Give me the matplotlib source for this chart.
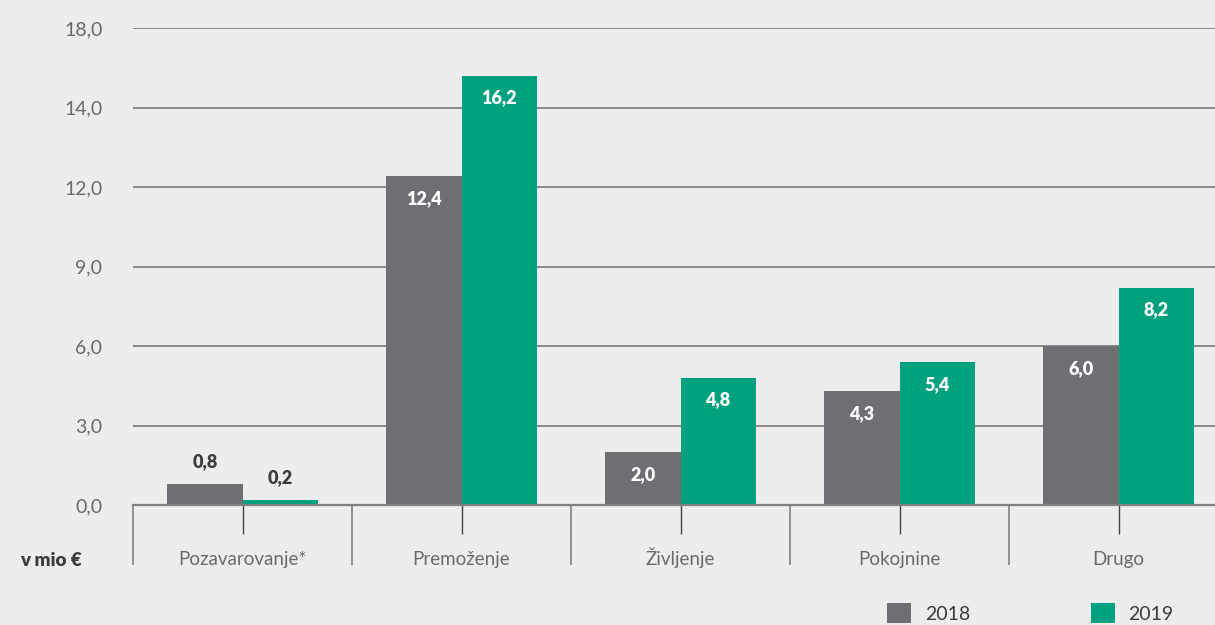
import numpy as np
import matplotlib.pyplot as plt
from matplotlib.patches import Patch

# podatki
categories = ['Pozavarovanje*', 'Premoženje', 'Življenje', 'Pokojnine', 'Drugo']
v2018 = [0.8, 12.4, 2.0, 4.3, 6.0]
v2019 = [0.2, 16.2, 4.8, 5.4, 8.2]
series_names = ['2018', '2019']
yticks = [0, 3, 6, 9, 12, 15, 18]
ytick_labels = ['0,0', '3,0', '6,0', '9,0', '12,0', '14,0', '18,0']

c18 = '#6d6f72'
c19 = '#00a17f'
bg = '#ededed'
txt = '#6a6a6a'
dark = '#3c3c3c'

plt.rcParams['font.family'] = ['Lato', 'DejaVu Sans']

W, H = 1215, 625
fig = plt.figure(figsize=(W / 100, H / 100), dpi=100, facecolor=bg)
ax = fig.add_axes([133 / W, (H - 505) / H, (1228 - 133) / W, 477 / H])
ax.set_facecolor(bg)

x = np.arange(len(categories))
w = 0.343
b1 = ax.bar(x - w / 2, v2018, w, color=c18, zorder=3)
b2 = ax.bar(x + w / 2, v2019, w, color=c19, zorder=3)

ax.set_xlim(-0.5, len(categories) - 0.5)
ax.set_ylim(0, 18)
ax.set_yticks(yticks)
ax.set_yticklabels(ytick_labels)
ax.grid(axis='y', color='#6e6e6e', lw=1.1, zorder=0)

for s in ['top', 'right', 'left']:
    ax.spines[s].set_visible(False)
ax.spines['bottom'].set_color('#808080')
ax.spines['bottom'].set_linewidth(1.6)
ax.spines['bottom'].set_zorder(4)

ax.tick_params(axis='y', length=0, pad=22, labelsize=14, labelcolor=txt)

ax.set_xticks(x)
ax.set_xticklabels(categories)
ax.set_xticks(np.arange(-0.5, len(categories)), minor=True)
ax.tick_params(axis='x', which='major', length=21, width=1, color='#444444',
               pad=22, labelsize=13.5, labelcolor=txt)
ax.tick_params(axis='x', which='minor', length=43, width=1.3, color='#8a8a8a')
for t in ax.get_xticklabels():
    t.set_verticalalignment('baseline')

def fmt(v):
    return f'{v:.1f}'.replace('.', ',')

for bars, vals in [(b1, v2018), (b2, v2019)]:
    for r, v in zip(bars, vals):
        cx = r.get_x() + r.get_width() / 2
        if v >= 1.5:
            ax.annotate(fmt(v), (cx, v), xytext=(0, -16), textcoords='offset points',
                        ha='center', va='center', color='white', fontsize=13,
                        fontweight='heavy', zorder=5)
        else:
            ax.annotate(fmt(v), (cx, v), xytext=(0, 16), textcoords='offset points',
                        ha='center', va='center', color=dark, fontsize=13,
                        fontweight='heavy', zorder=5)

fig.text(20 / W, (H - 560) / H, 'v mio €', fontsize=13.5, fontweight='heavy',
         color=dark, va='center', ha='left')

handles = [Patch(facecolor=c18), Patch(facecolor=c19)]
fig.legend(handles, series_names, loc='center left',
           bbox_to_anchor=(887 / W, 12 / H), ncol=2, frameon=False,
           fontsize=14, labelcolor=dark, handlelength=1.25, handleheight=1.25,
           handletextpad=0.7, columnspacing=6.2, borderpad=0, borderaxespad=0)

fig.savefig('out.png', dpi=100, facecolor=bg)
